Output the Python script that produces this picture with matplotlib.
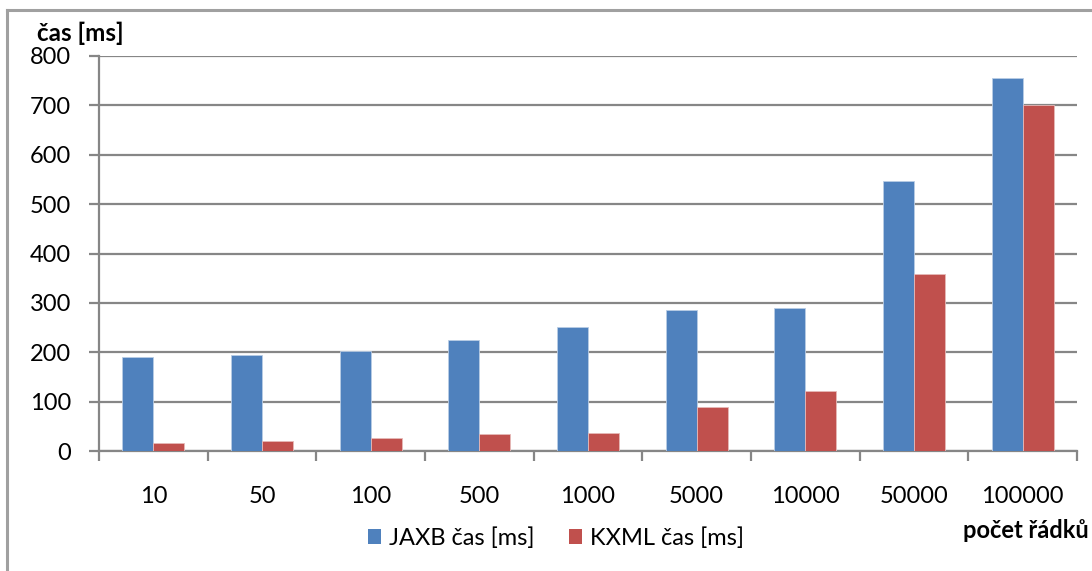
import matplotlib
matplotlib.use("Agg")
import matplotlib.pyplot as plt
from matplotlib.patches import Patch
from matplotlib.lines import Line2D
import numpy as np

plt.rcParams['font.family'] = ['Lato', 'DejaVu Sans']

categories = ["10", "50", "100", "500", "1000", "5000", "10000", "50000", "100000"]
jaxb = [190, 194, 202, 225, 251, 286, 290, 547, 756]
kxml = [17, 21, 26, 35, 36, 89, 121, 359, 700]
yticks = [0, 100, 200, 300, 400, 500, 600, 700, 800]

blue = "#4F81BD"
red = "#C0504D"
grid_c = "#868686"

fig = plt.figure(figsize=(10.92, 5.71), dpi=100)
ax = fig.add_axes([99 / 1092, 1 - 451 / 571, (1077 - 99) / 1092, (451 - 56) / 571])

x = np.arange(len(categories))
w = 1 / 3.5
ax.bar(x - w / 2, jaxb, width=w, color=blue, edgecolor="#B9CDE5", linewidth=0.6, zorder=3)
ax.bar(x + w / 2, kxml, width=w, color=red, edgecolor="#E6B9B8", linewidth=0.6, zorder=3)

ax.set_xlim(-0.5, len(categories) - 0.5)
ax.set_ylim(0, 800)
ax.set_yticks(yticks)
ax.set_yticklabels([str(v) for v in yticks], fontsize=17)
ax.yaxis.grid(True, color=grid_c, linewidth=1.6, zorder=0)
ax.set_axisbelow(True)

# category labels centred, tick marks on the boundaries
ax.set_xticks(x)
ax.set_xticklabels(categories, fontsize=17)
ax.tick_params(axis='x', length=0, pad=25)
ax.set_xticks(np.arange(-0.5, len(categories)), minor=True)
ax.tick_params(axis='x', which='minor', length=7, width=1.6, color=grid_c)
ax.tick_params(axis='y', length=7, width=1.6, color=grid_c, pad=13)

for s in ["top", "right"]:
    ax.spines[s].set_visible(False)
for s in ["left", "bottom"]:
    ax.spines[s].set_color(grid_c)
    ax.spines[s].set_linewidth(1.6)

# chart frame
fig.add_artist(Line2D([7 / 1092, 7 / 1092], [0, 1 - 10 / 571], transform=fig.transFigure,
                      color="#A0A0A0", linewidth=2.2))
fig.add_artist(Line2D([7 / 1092, 1], [1 - 10 / 571, 1 - 10 / 571], transform=fig.transFigure,
                      color="#A0A0A0", linewidth=2.2))

fig.text(37 / 1092, 1 - 33 / 571, "čas [ms]", fontsize=17.5, fontweight="bold", va="center", ha="left")
fig.text(1089 / 1092, 1 - 530 / 571, "počet řádků", fontsize=17, fontweight="bold", va="center", ha="right")

handles = [Patch(facecolor=blue, edgecolor="none"), Patch(facecolor=red, edgecolor="none")]
fig.legend(handles, ["JAXB čas [ms]", "KXML čas [ms]"], loc="center", bbox_to_anchor=(556 / 1092, 1 - 538 / 571),
           ncol=2, frameon=False, fontsize=17, handlelength=0.55, handleheight=0.55,
           handletextpad=0.3, columnspacing=1.5)

fig.savefig("out.png", dpi=100)
